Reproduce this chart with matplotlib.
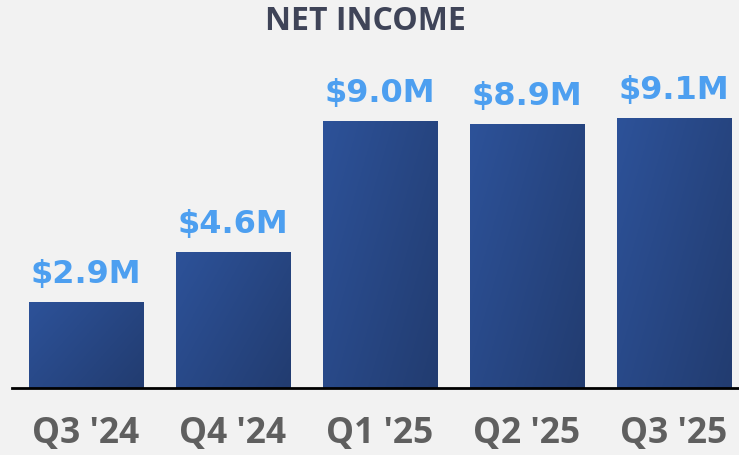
import numpy as np
import matplotlib
matplotlib.use("Agg")
import matplotlib.pyplot as plt
from matplotlib.colors import LinearSegmentedColormap

categories = ["Q3 '24", "Q4 '24", "Q1 '25", "Q2 '25", "Q3 '25"]
values = [2.9, 4.6, 9.0, 8.9, 9.1]
labels = ["$2.9M", "$4.6M", "$9.0M", "$8.9M", "$9.1M"]

BG = "#f2f2f2"
fig = plt.figure(figsize=(7.39, 4.55), dpi=100, facecolor=BG)
ax = fig.add_axes([12/739, 67/455, 1 - 12/739, (388-32)/455])
ax.set_facecolor(BG)

x = np.arange(len(categories))
bars = ax.bar(x, values, width=0.776, color="#284680", zorder=2)

cmap = LinearSegmentedColormap.from_list("g", ["#2d5299", "#223c70"])
gx, gy = np.meshgrid(np.linspace(0, 1, 64), np.linspace(0, 1, 64))
grad = (gx * 0.6 + gy * 0.4)
for b in bars:
    x0, y0 = b.get_x(), b.get_y()
    w, h = b.get_width(), b.get_height()
    im = ax.imshow(grad, cmap=cmap, extent=[x0, x0 + w, y0, y0 + h],
                   aspect="auto", origin="upper", zorder=3, interpolation="bilinear")
    im.set_clip_path(b)

for xi, v, lab in zip(x, values, labels):
    ax.annotate(lab, (xi, v), xytext=(0, 19), textcoords="offset pixels",
                ha="center", va="baseline", fontsize=23, fontweight="bold",
                color="#4d9ff0", family="DejaVu Sans")

ax.set_xlim(-0.503, 4.442)
ax.set_ylim(0, 12)
ax.set_yticks([])
ax.set_xticks(x)
ax.set_xticklabels(categories, fontsize=25.5, fontweight="bold", color="#5f5f5f",
                   family="Open Sans")
ax.tick_params(axis="x", length=0, pad=20)
for s in ["top", "right", "left"]:
    ax.spines[s].set_visible(False)
ax.spines["bottom"].set_color("black")
ax.spines["bottom"].set_linewidth(2)
ax.spines["bottom"].set_zorder(4)

fig.text(365/739, 1 - 22/455, "NET INCOME", ha="center", va="center",
         fontsize=23, fontweight="bold", color="#3f4458", family="Open Sans")

fig.savefig("out.png", dpi=100, facecolor=BG)
